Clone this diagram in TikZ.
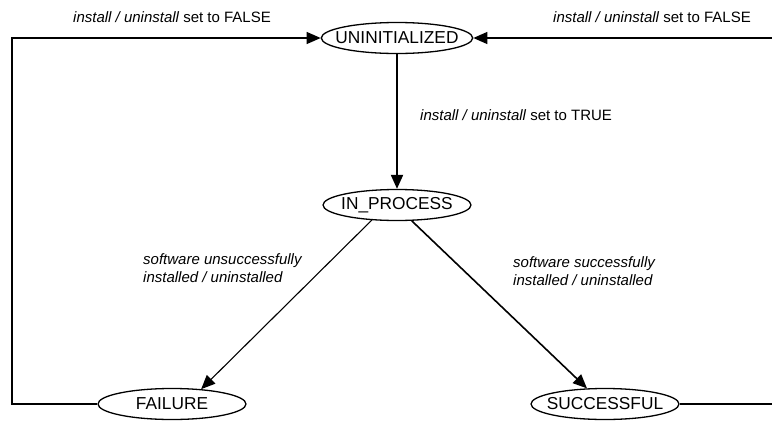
\documentclass[tikz,border=0pt]{standalone}
\usepackage{fontspec}
\setmainfont{Liberation Sans}
\usetikzlibrary{arrows.meta, shapes.geometric}

\begin{document}
\begin{tikzpicture}[x=1pt, y=-1pt,
    state/.style={draw, ellipse, line width=1.3pt, inner xsep=-8pt, inner ysep=0pt,
      minimum width=148pt, minimum height=31pt, font=\fontsize{17.3}{20}\selectfont},
    lbl/.style={font=\fontsize{15}{17.5}\selectfont\itshape, align=left, inner sep=0pt},
    tip/.style={-{Triangle[length=14pt, width=12pt]}}]
  \useasboundingbox (0,0) rectangle (772,421);
  % states
  \node[state] (uninit) at (397,38) {UNINITIALIZED};
  \node[state] (inp) at (397,205) {IN\_PROCESS};
  \node[state] (fail) at (172,404) {FAILURE};
  \node[state] (succ) at (605,404) {SUCCESSFUL};
  % free ends at the border
  \coordinate (corner) at (12,38);
  \coordinate (tr) at (772,38);
  \coordinate (br) at (772,404);
  % transitions
  \draw[tip, line width=2pt] (uninit.south) -- (inp.north);
  \draw[tip, line width=1.1pt] (inp.211) -- (fail.27);
  \draw[tip, line width=1.6pt] (inp.313) -- (succ.139);
  \draw[tip, line width=1.2pt] (fail.west) -| (corner) -- (uninit.west);
  \draw[tip, line width=1.2pt] (tr) -- (uninit.east);
  \draw[line width=1.2pt] (succ.east) -- (br);
  % labels
  \node[lbl] (resetL) at (172,17) {install / uninstall {\upshape set to FALSE}};
  \node[lbl] (resetR) at (652,17) {install / uninstall {\upshape set to FALSE}};
  \node[lbl, anchor=west] (start) at (420,115) {install / uninstall {\upshape set to TRUE}};
  \node[lbl, anchor=west] (bad) at (143,268) {software unsuccessfully\\installed / uninstalled};
  \node[lbl, anchor=west] (good) at (513,271) {software successfully\\installed / uninstalled};
\end{tikzpicture}
\end{document}
